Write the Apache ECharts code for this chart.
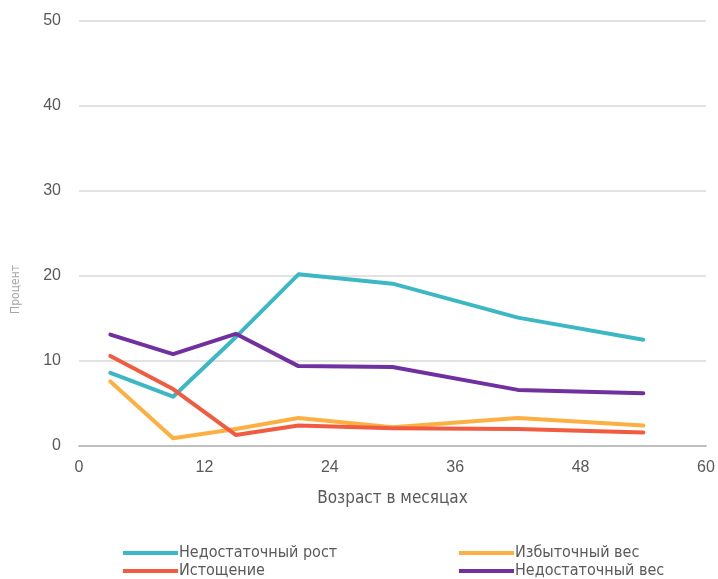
<!DOCTYPE html>
<html>
<head>
<meta charset="utf-8">
<script src="https://cdn.jsdelivr.net/npm/echarts@6/dist/echarts.min.js"></script>
<style>
  html, body { margin: 0; padding: 0; background: #fff; }
  #chart { width: 718px; height: 579px; }
</style>
</head>
<body>
<div id="chart"></div>
<script>
// age points in months
const ages = [3, 9, 15, 21, 30, 42, 54];

const stunting = [8.6, 5.8, 12.8, 20.2, 19.1, 15.1, 12.5];   // Недостаточный рост
const overweight = [7.6, 0.9, 2.0, 3.3, 2.2, 3.3, 2.4];      // Избыточный вес
const wasting = [10.6, 6.7, 1.3, 2.4, 2.1, 2.0, 1.6];        // Истощение
const underweight = [13.1, 10.8, 13.2, 9.4, 9.3, 6.6, 6.2];  // Недостаточный вес

const seriesNames = ['Недостаточный рост', 'Избыточный вес', 'Истощение', 'Недостаточный вес'];
const colors = ['#3cb8c5', '#fdb042', '#f15b40', '#7030a0'];

const pair = (ys) => ys.map((y, i) => [ages[i], y]);

const narrow = '"DejaVu Sans Condensed", "Liberation Sans", sans-serif';

const chart = echarts.init(document.getElementById('chart'));

const legendBase = {
  orient: 'vertical',
  top: 540,
  height: 60,
  itemWidth: 55,
  itemHeight: 4,
  itemGap: 2,
  icon: 'rect',
  textStyle: { fontFamily: narrow, fontSize: 16, color: '#595959', padding: [0, 0, 0, -4] }
};

chart.setOption({
  animation: false,
  color: colors,
  grid: { left: 79, right: 12, top: 21, bottom: 133 },
  legend: [
    Object.assign({}, legendBase, { left: 118, data: [seriesNames[0], seriesNames[2]] }),
    Object.assign({}, legendBase, { left: 454, data: [seriesNames[1], seriesNames[3]] })
  ],
  graphic: [{
    type: 'text',
    left: 10,
    top: 265,
    rotation: Math.PI / 2,
    style: { text: 'Процент', fill: '#a6a6a6', font: '12px ' + narrow }
  }],
  xAxis: {
    type: 'value',
    min: 0, max: 60, interval: 12,
    name: 'Возраст в месяцах',
    nameLocation: 'middle',
    nameGap: 44,
    nameTextStyle: { fontFamily: narrow, fontSize: 17, color: '#595959' },
    axisLine: { lineStyle: { color: '#bfbfbf', width: 2 } },
    axisTick: { show: false },
    splitLine: { show: false },
    axisLabel: { fontFamily: 'Liberation Sans', fontSize: 16, color: '#595959', margin: 14 }
  },
  yAxis: {
    type: 'value',
    min: 0, max: 50, interval: 10,
    axisLine: { show: false },
    axisTick: { show: false },
    splitLine: { lineStyle: { color: '#d9d9d9', width: 1.5 } },
    axisLabel: { fontFamily: 'Liberation Sans', fontSize: 16, color: '#595959', margin: 18 }
  },
  series: [
    { name: seriesNames[0], type: 'line', data: pair(stunting) },
    { name: seriesNames[1], type: 'line', data: pair(overweight) },
    { name: seriesNames[2], type: 'line', data: pair(wasting) },
    { name: seriesNames[3], type: 'line', data: pair(underweight) }
  ].map(s => Object.assign(s, {
    showSymbol: false,
    symbol: 'none',
    lineStyle: { width: 4, cap: 'round', join: 'round' }
  }))
});
</script>
</body>
</html>
